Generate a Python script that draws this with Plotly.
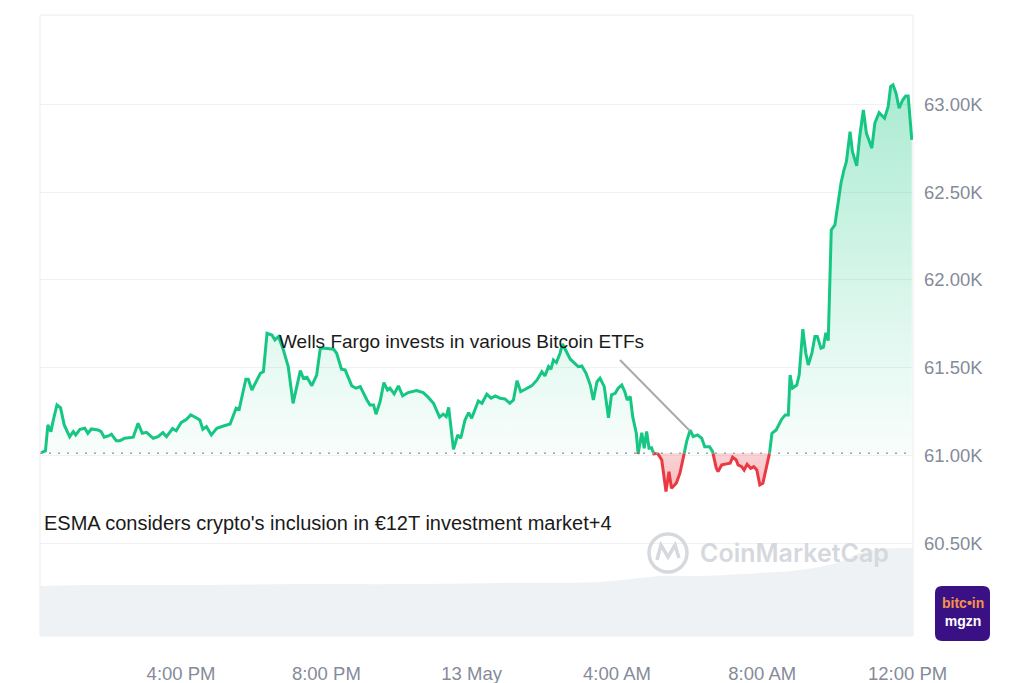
import plotly.graph_objects as go
from datetime import datetime, timedelta

# ---------------- data ----------------
times = [
    "12:09", "12:16", "12:20", "12:25", "12:29", "12:35", "12:41", "12:47", "12:56", "13:02",
    "13:06", "13:13", "13:21", "13:26", "13:32", "13:43", "13:48", "13:53", "14:00", "14:05",
    "14:13", "14:19", "14:27", "14:41", "14:49", "14:56", "15:03", "15:14", "15:22", "15:30",
    "15:36", "15:46", "15:52", "16:00", "16:09", "16:16", "16:25", "16:31", "16:36", "16:42",
    "16:50", "16:59", "17:10", "17:21", "17:31", "17:36", "17:47", "17:51", "17:57", "18:11",
    "18:16", "18:22", "18:30", "18:35", "18:41", "18:49", "18:57", "19:05", "19:17", "19:22",
    "19:28", "19:36", "19:44", "19:50", "19:58", "20:12", "20:17", "20:25", "20:31", "20:42",
    "20:49", "20:56", "21:07", "21:12", "21:18", "21:22", "21:29", "21:35", "21:41", "21:45",
    "21:52", "21:59", "22:06", "22:15", "22:29", "22:40", "22:48", "22:57", "23:07", "23:13",
    "23:18", "23:22", "23:30", "23:37", "23:42", "23:49", "23:55", "00:00", "00:11", "00:17",
    "00:25", "00:32", "00:39", "00:47", "00:55", "01:03", "01:09", "01:15", "01:21", "01:30",
    "01:39", "01:48", "01:56", "02:01", "02:07", "02:11", "02:15", "02:20", "02:26", "02:30",
    "02:36", "02:43", "02:49", "02:56", "03:02", "03:09", "03:16", "03:21", "03:27", "03:32",
    "03:39", "03:46", "03:51", "03:57", "04:02", "04:08", "04:13", "04:17", "04:22", "04:26",
    "04:32", "04:35", "04:41", "04:45", "04:49", "04:53", "04:57", "05:01", "05:07", "05:14",
    "05:21", "05:26", "05:30", "05:38", "05:44", "05:50", "05:55", "06:01", "06:06", "06:13",
    "06:20", "06:25", "06:33", "06:38", "06:44", "06:47", "06:53", "07:01", "07:07", "07:11",
    "07:17", "07:20", "07:26", "07:30", "07:35", "07:41", "07:46", "07:51", "07:56", "08:01",
    "08:06", "08:12", "08:16", "08:23", "08:32", "08:38", "08:43", "08:46", "08:50", "08:57",
    "09:01", "09:07", "09:12", "09:16", "09:22", "09:27", "09:31", "09:37", "09:41", "09:45",
    "09:49", "09:54", "10:00", "10:06", "10:10", "10:15", "10:19", "10:25", "10:29", "10:36",
    "10:41", "10:47", "10:52", "11:01", "11:06", "11:13", "11:22", "11:28", "11:32", "11:36",
    "11:41", "11:46", "11:52", "11:57", "12:01", "12:07",
]
prices = [
    61016, 61026, 61174, 61136, 61202, 61288, 61271, 61174, 61107, 61136,
    61117, 61149, 61155, 61126, 61151, 61145, 61136, 61104, 61111, 61121,
    61084, 61084, 61098, 61104, 61183, 61126, 61132, 61098, 61107, 61130,
    61107, 61153, 61141, 61187, 61206, 61231, 61215, 61202, 61149, 61164,
    61117, 61155, 61168, 61179, 61269, 61263, 61434, 61434, 61373, 61468,
    61477, 61696, 61686, 61658, 61677, 61601, 61506, 61297, 61483, 61440,
    61445, 61397, 61458, 61610, 61610, 61605, 61582, 61491, 61487, 61396,
    61383, 61392, 61316, 61288, 61288, 61235, 61310, 61415, 61373, 61383,
    61350, 61396, 61339, 61358, 61369, 61358, 61332, 61297, 61218, 61235,
    61221, 61274, 61035, 61117, 61098, 61202, 61244, 61212, 61310, 61297,
    61349, 61326, 61339, 61326, 61322, 61297, 61316, 61426, 61363, 61379,
    61396, 61430, 61477, 61453, 61506, 61491, 61544, 61529, 61582, 61635,
    61591, 61548, 61529, 61506, 61510, 61468, 61401, 61316, 61420, 61440,
    61392, 61215, 61345, 61354, 61383, 61401, 61363, 61316, 61335, 61221,
    61126, 61009, 61130, 61041, 61136, 61041, 61044, 61009, 61013, 60974,
    60794, 60908, 60813, 60842, 60899, 60993, 61079, 61145, 61107, 61117,
    61098, 61050, 61050, 61022, 60929, 60908, 60946, 60952, 60956, 60990,
    60974, 60946, 60936, 60917, 60950, 60927, 60936, 60917, 60832, 60842,
    60917, 61013, 61126, 61145, 61206, 61231, 61231, 61458, 61383, 61401,
    61458, 61719, 61582, 61515, 61582, 61677, 61677, 61610, 61616, 61699,
    61654, 62284, 62313, 62455, 62550, 62626, 62673, 62844, 62730, 62649,
    62816, 62968, 62835, 62750, 62892, 62952, 62920, 62986, 63100, 63110,
    63063, 62977, 63024, 63047, 63047, 62797,
]
BASELINE = 61012

volume_times = ["12:07", "13:46", "16:31", "19:17", "22:02", "00:47", "03:32", "04:38",
                "05:11", "06:17", "07:56", "09:02", "10:08", "10:41", "11:14", "12:09"]
volume_b = [16.7, 17.0, 17.0, 17.3, 17.3, 17.7, 18.0, 19.3,
            20.0, 20.0, 21.0, 22.0, 24.7, 27.7, 29.0, 29.3]

y_tickvals = [60500, 61000, 61500, 62000, 62500, 63000]
y_ticktext = ["60.50K", "61.00K", "61.50K", "62.00K", "62.50K", "63.00K"]
x_ticktimes = ["16:00", "20:00", "00:00", "04:00", "08:00", "12:00"]
x_ticktext = ["4:00 PM", "8:00 PM", "13 May", "4:00 AM", "8:00 AM", "12:00 PM"]

# ---------------- helpers ----------------
START_DAY = datetime(2024, 5, 12)


def to_datetimes(labels):
    out, day, prev = [], START_DAY, None
    for t in labels:
        h, m = map(int, t.split(":"))
        cur = h * 60 + m
        if prev is not None and cur < prev:
            day += timedelta(days=1)
        prev = cur
        out.append(day + timedelta(hours=h, minutes=m))
    return out


ts = to_datetimes(times)
vts = to_datetimes(volume_times)
xticks = to_datetimes(["12:00"] + x_ticktimes)[1:]

# insert baseline crossings so the line switches colour exactly at the baseline
ax_, ay_ = [], []
for i in range(len(ts)):
    if i > 0:
        p0, p1 = prices[i - 1], prices[i]
        if (p0 - BASELINE) * (p1 - BASELINE) < 0:
            frac = (BASELINE - p0) / (p1 - p0)
            ax_.append(ts[i - 1] + (ts[i] - ts[i - 1]) * frac)
            ay_.append(BASELINE)
    ax_.append(ts[i])
    ay_.append(prices[i])

green_line = [v if v >= BASELINE else None for v in ay_]
red_line = [v if v <= BASELINE else None for v in ay_]
green_clip = [max(v, BASELINE) for v in ay_]
red_clip = [min(v, BASELINE) for v in ay_]

GREEN = "#16c784"
RED = "#ea3943"
FONT = "Liberation Sans, Arial, sans-serif"

L, R, T, B = 40, 111, 15, 47
W, H = 1024, 683
PW, PH = W - L - R, H - T - B


def px(x):
    return (x - L) / PW


def py(y):
    return (H - B - y) / PH


fig = go.Figure()

# volume band
fig.add_trace(go.Scatter(
    x=vts, y=volume_b, yaxis="y2", mode="lines", line=dict(width=0, shape="spline"),
    fill="tozeroy", fillcolor="#eff2f5", hoverinfo="skip", showlegend=False))

# fills
fig.add_trace(go.Scatter(
    x=ax_ + ax_[::-1], y=green_clip + [BASELINE] * len(ax_), mode="lines",
    line=dict(width=0), fill="toself",
    fillgradient=dict(type="vertical", start=BASELINE, stop=max(prices),
                      colorscale=[[0, "rgba(22,199,132,0.03)"], [0.3, "rgba(22,199,132,0.12)"],
                                  [1, "rgba(22,199,132,0.36)"]]),
    hoverinfo="skip", showlegend=False))
fig.add_trace(go.Scatter(
    x=ax_ + ax_[::-1], y=red_clip + [BASELINE] * len(ax_), mode="lines",
    line=dict(width=0), fill="toself",
    fillgradient=dict(type="vertical", start=min(prices), stop=BASELINE,
                      colorscale=[[0, "rgba(234,57,67,0.34)"], [1, "rgba(234,57,67,0.22)"]]),
    hoverinfo="skip", showlegend=False))

# lines
fig.add_trace(go.Scatter(x=ax_, y=green_line, mode="lines", line=dict(color=GREEN, width=3),
                         connectgaps=False, showlegend=False))
fig.add_trace(go.Scatter(x=ax_, y=red_line, mode="lines", line=dict(color=RED, width=3),
                         connectgaps=False, showlegend=False))

shapes = [
    # light frame
    dict(type="rect", xref="paper", yref="paper", x0=0, x1=1, y0=0, y1=1,
         line=dict(color="#ececec", width=1), layer="below"),
    # baseline
    dict(type="line", xref="paper", yref="y", x0=0, x1=1, y0=BASELINE, y1=BASELINE,
         line=dict(color="#9ea3ab", width=1.5, dash="2px,7px")),
    # annotation connector
    dict(type="line", xref="paper", yref="paper", x0=px(620), y0=py(360), x1=px(690), y1=py(431),
         line=dict(color="#aaaaaa", width=2)),
    # CoinMarketCap watermark logo
    dict(type="circle", xref="paper", yref="paper", x0=px(649), x1=px(687), y0=py(572), y1=py(534),
         line=dict(color="#d5d9de", width=3.5)),
    dict(type="path", xref="paper", yref="paper",
         path="M {} {} L {} {} L {} {} L {} {} L {} {}".format(
             px(657), py(560), px(661), py(545), px(668), py(557), px(675), py(545), px(679), py(558)),
         line=dict(color="#d5d9de", width=3.5)),
]

# bitcoin mgzn logo (rounded square)
x0, x1, y0, y1, r = 935, 990, 586, 641, 7
path = ("M {a} {b} L {c} {b} Q {x1} {b} {x1} {d} L {x1} {e} Q {x1} {y1p} {c} {y1p} "
        "L {a} {y1p} Q {x0} {y1p} {x0} {e} L {x0} {d} Q {x0} {b} {a} {b} Z").format(
    a=px(x0 + r), b=py(y0), c=px(x1 - r), d=py(y0 + r), e=py(y1 - r),
    x0=px(x0), x1=px(x1), y1p=py(y1))
shapes.append(dict(type="path", xref="paper", yref="paper", path=path,
                   fillcolor="#3a1185", line=dict(width=0)))

annotations = [
    dict(text="Wells Fargo invests in various Bitcoin ETFs", xref="paper", yref="paper",
         x=px(277), y=py(341), xanchor="left", yanchor="middle", showarrow=False,
         font=dict(family=FONT, size=19, color="#1a1a1a")),
    dict(text="ESMA considers crypto's inclusion in €12T investment market+4", xref="paper", yref="paper",
         x=px(42), y=py(523), xanchor="left", yanchor="middle", showarrow=False,
         font=dict(family=FONT, size=20, color="#1a1a1a")),
    dict(text="CoinMarketCap", xref="paper", yref="paper", x=px(794), y=py(553),
         xanchor="center", yanchor="middle", showarrow=False,
         font=dict(family="Inter, Roboto, sans-serif", size=25, color="#d5d9de", weight=600)),
    dict(text="<span style='color:#f5914a'>bitc•in</span><br><span style='color:#ffffff'>mgzn</span>",
         xref="paper", yref="paper", x=px(962.5), y=py(612),
         xanchor="center", yanchor="middle", showarrow=False, borderpad=0,
         font=dict(family=FONT, size=14, color="#ffffff", weight="bold")),
]

fig.update_layout(
    width=W, height=H,
    margin=dict(l=L, r=R, t=T, b=B, pad=0, autoexpand=False),
    paper_bgcolor="white", plot_bgcolor="white",
    showlegend=False,
    font=dict(family=FONT),
    xaxis=dict(
        type="date", automargin=False,
        range=[datetime(2024, 5, 12, 12, 7), datetime(2024, 5, 13, 12, 9)],
        tickvals=xticks, ticktext=x_ticktext,
        showgrid=False, zeroline=False, showline=False, ticks="",
        ticklabelstandoff=24,
        tickfont=dict(family=FONT, size=18.5, color="#858b9a"),
    ),
    yaxis=dict(
        side="right", automargin=False,
        range=[59972, 63508],
        tickvals=y_tickvals, ticktext=y_ticktext,
        showgrid=True, gridcolor="#f0f1f3", gridwidth=1,
        zeroline=False, showline=False, ticks="",
        ticklabelstandoff=10,
        tickfont=dict(family=FONT, size=18.5, color="#858b9a"),
    ),
    yaxis2=dict(overlaying="y", range=[0, 207], visible=False, fixedrange=True),
    shapes=shapes,
    annotations=annotations,
)

fig.write_html("out.html")
